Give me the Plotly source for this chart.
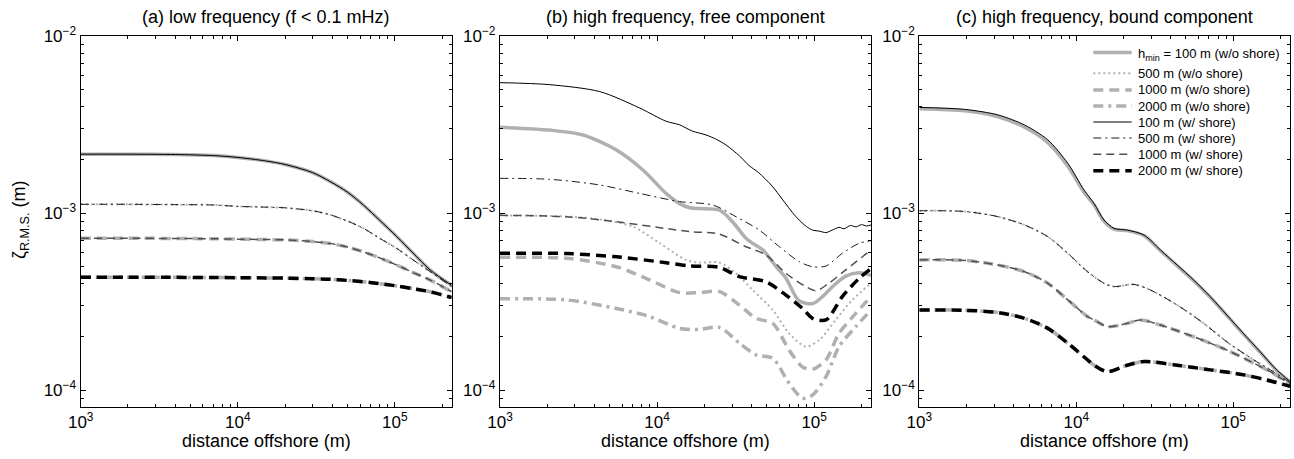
import plotly.graph_objects as go
import numpy as np

# ---------------- data (x: distance offshore in m, y: zeta RMS in m) ----------------
# Panel (a) low frequency
a_x = [1e3, 2e3, 4e3, 7e3, 1e4, 1.5e4, 2e4, 3e4, 3.9e4, 5e4, 6.3e4, 8e4, 1.03e5, 1.3e5, 1.68e5, 2.3e5]
a_100 = [2.15e-3, 2.15e-3, 2.14e-3, 2.11e-3, 2.06e-3, 1.97e-3, 1.88e-3, 1.69e-3, 1.50e-3, 1.31e-3, 1.11e-3, 9.1e-4,
         7.35e-4, 5.96e-4, 4.76e-4, 3.9e-4]
a_500 = [1.12e-3, 1.12e-3, 1.115e-3, 1.11e-3, 1.09e-3, 1.08e-3, 1.07e-3, 1.03e-3, 9.75e-4, 9.0e-4, 8.2e-4, 7.2e-4,
         6.3e-4, 5.45e-4, 4.66e-4, 3.84e-4]
a_1000 = [7.2e-4, 7.2e-4, 7.18e-4, 7.15e-4, 7.12e-4, 7.08e-4, 7.05e-4, 6.9e-4, 6.72e-4, 6.42e-4, 6.04e-4, 5.58e-4,
          5.08e-4, 4.62e-4, 4.18e-4, 3.59e-4]
a_2000 = [4.34e-4, 4.34e-4, 4.33e-4, 4.32e-4, 4.31e-4, 4.3e-4, 4.29e-4, 4.25e-4, 4.22e-4, 4.16e-4, 4.09e-4, 3.99e-4,
          3.87e-4, 3.74e-4, 3.59e-4, 3.33e-4]

# Panel (b) high frequency, free component
b_w100_x = [1e3, 2.07e3, 4.32e3, 7.74e3, 1.14e4, 1.39e4, 1.68e4, 2.05e4, 2.4e4, 2.75e4, 3.35e4, 3.86e4, 4.4e4, 5.4e4,
            6.25e4, 7.6e4, 8.9e4, 9.8e4, 1.08e5, 1.19e5, 1.3e5, 1.44e5, 1.55e5, 1.7e5, 1.85e5, 2.0e5, 2.15e5, 2.3e5]
b_w100 = [5.45e-3, 5.31e-3, 4.85e-3, 3.92e-3, 3.3e-3, 3.15e-3, 2.9e-3, 2.76e-3, 2.6e-3, 2.42e-3, 2.1e-3, 1.85e-3,
          1.7e-3, 1.42e-3, 1.2e-3, 9.6e-4, 8.4e-4, 8.0e-4, 7.9e-4, 7.75e-4, 8.0e-4, 8.3e-4, 8.15e-4, 8.5e-4, 8.35e-4,
          8.6e-4, 8.45e-4, 8.55e-4]
b_wo100_x = [1e3, 2.07e3, 3.38e3, 5.51e3, 8.13e3, 1.14e4, 1.39e4, 1.61e4, 1.86e4, 2.49e4, 3.03e4, 3.68e4, 4.1e4,
             4.7e4, 5.7e4, 6.6e4, 8.0e4, 9.8e4, 1.13e5, 1.31e5, 1.59e5, 1.93e5, 2.3e5]
b_wo100 = [3.05e-3, 2.94e-3, 2.76e-3, 2.27e-3, 1.75e-3, 1.29e-3, 1.13e-3, 1.07e-3, 1.06e-3, 1.04e-3, 8.9e-4, 7.2e-4,
           6.7e-4, 6.2e-4, 5.0e-4, 4.3e-4, 3.2e-4, 3.08e-4, 3.37e-4, 3.84e-4, 4.4e-4, 4.6e-4, 4.45e-4]
b_w500_x = [1e3, 2.07e3, 4.32e3, 7.74e3, 1.39e4, 2.26e4, 3.18e4, 4.48e4, 6.0e4, 8.04e4, 9.77e4, 1.19e5, 1.51e5, 1.93e5, 2.3e5]
b_w500 = [1.57e-3, 1.55e-3, 1.44e-3, 1.29e-3, 1.16e-3, 1.11e-3, 9.53e-4, 8.0e-4, 6.45e-4, 5.31e-4, 4.97e-4, 5.02e-4,
          5.92e-4, 6.74e-4, 6.98e-4]
b_w1000_x = [1e3, 2.65e3, 5.51e3, 1.61e4, 2.49e4, 3.68e4, 4.93e4, 6.61e4, 8.85e4, 1.03e5, 1.24e5, 1.59e5, 2.3e5]
b_w1000 = [9.7e-4, 9.53e-4, 8.93e-4, 7.85e-4, 7.6e-4, 6.45e-4, 5.8e-4, 4.56e-4, 3.84e-4, 3.64e-4, 4.01e-4, 4.77e-4, 6.18e-4]
b_w2000_x = [1e3, 2.65e3, 5.51e3, 1.14e4, 1.61e4, 2.49e4, 3.34e4, 4.93e4, 6.61e4, 8.43e4, 9.77e4, 1.19e5, 1.51e5, 1.93e5, 2.3e5]
b_w2000 = [5.92e-4, 5.9e-4, 5.66e-4, 5.24e-4, 5.02e-4, 4.93e-4, 4.37e-4, 4.09e-4, 3.44e-4, 2.89e-4, 2.54e-4, 2.49e-4,
           3.37e-4, 4.27e-4, 4.86e-4]
b_wo500_x = [1e3, 2.65e3, 4.32e3, 7.03e3, 1.04e4, 1.53e4, 1.86e4, 2.49e4, 3.18e4, 4.06e4, 5.45e4, 6.93e4, 8.85e4,
             1.08e5, 1.37e5, 1.75e5, 2.3e5]
b_wo500 = [9.7e-4, 9.55e-4, 9.2e-4, 8.37e-4, 6.75e-4, 5.43e-4, 5.25e-4, 5.25e-4, 4.56e-4, 3.67e-4, 2.83e-4, 2.09e-4,
           1.76e-4, 1.92e-4, 2.49e-4, 3.23e-4, 4.01e-4]
b_wo1000_x = [1e3, 2.65e3, 5.51e3, 8.95e3, 1.39e4, 1.86e4, 2.49e4, 3.34e4, 4.27e4, 5.45e4, 6.93e4, 8.43e4, 9.77e4,
              1.19e5, 1.44e5, 1.84e5, 2.3e5]
b_wo1000 = [5.62e-4, 5.55e-4, 4.97e-4, 4.19e-4, 3.55e-4, 3.55e-4, 3.6e-4, 3.02e-4, 2.54e-4, 2.38e-4, 1.68e-4, 1.35e-4,
            1.31e-4, 1.48e-4, 2.09e-4, 2.71e-4, 3.37e-4]
b_wo2000_x = [1e3, 2.65e3, 5.51e3, 8.95e3, 1.39e4, 1.86e4, 2.49e4, 3.34e4, 4.27e4, 5.45e4, 6.93e4, 8.43e4, 9.77e4,
              1.19e5, 1.44e5, 1.84e5, 2.3e5]
b_wo2000 = [3.28e-4, 3.23e-4, 2.89e-4, 2.6e-4, 2.23e-4, 2.2e-4, 2.26e-4, 1.84e-4, 1.58e-4, 1.51e-4, 1.09e-4, 8.98e-5,
            9.37e-5, 1.19e-4, 1.76e-4, 2.28e-4, 2.83e-4]

# Panel (c) high frequency, bound component
c_100_x = [1e3, 1.95e3, 3.18e3, 4.69e3, 6.59e3, 8.83e3, 1.12e4, 1.3e4, 1.5e4, 1.74e4, 2.11e4, 2.7e4, 3.44e4, 4.4e4,
           5.6e4, 7.14e4, 9.12e4, 1.16e5, 1.48e5, 1.89e5, 2.3e5]
c_w100 = [3.95e-3, 3.85e-3, 3.58e-3, 3.14e-3, 2.59e-3, 1.91e-3, 1.35e-3, 1.13e-3, 9.14e-4, 8.19e-4, 8.01e-4, 7.51e-4,
          6.18e-4, 5.08e-4, 4.18e-4, 3.37e-4, 2.65e-4, 2.09e-4, 1.65e-4, 1.3e-4, 1.12e-4]
c_wo100 = [3.88e-3, 3.78e-3, 3.5e-3, 3.05e-3, 2.5e-3, 1.84e-3, 1.31e-3, 1.11e-3, 9.0e-4, 8.1e-4, 7.95e-4, 7.45e-4,
           6.12e-4, 5.03e-4, 4.14e-4, 3.34e-4, 2.63e-4, 2.07e-4, 1.64e-4, 1.29e-4, 1.11e-4]
c_500_x = [1e3, 1.95e3, 3.18e3, 4.69e3, 6.59e3, 8.83e3, 1.18e4, 1.51e4, 1.74e4, 2.33e4, 2.97e4, 4.4e4, 6.49e4, 9.12e4,
           1.35e5, 1.8e5, 2.3e5]
c_500 = [1.03e-3, 1.02e-3, 9.53e-4, 8.55e-4, 7.35e-4, 5.92e-4, 4.66e-4, 4.0e-4, 3.84e-4, 3.95e-4, 3.67e-4, 3.02e-4,
         2.38e-4, 1.87e-4, 1.48e-4, 1.27e-4, 1.1e-4]
c_1000_x = [1e3, 1.95e3, 3.18e3, 4.69e3, 6.59e3, 8.83e3, 1.18e4, 1.3e4, 1.58e4, 2.11e4, 2.57e4, 3.44e4, 5.6e4, 9.12e4,
            1.35e5, 1.8e5, 2.3e5]
c_1000 = [5.43e-4, 5.4e-4, 5.08e-4, 4.66e-4, 4.01e-4, 3.23e-4, 2.6e-4, 2.49e-4, 2.28e-4, 2.38e-4, 2.49e-4, 2.33e-4,
          2.0e-4, 1.68e-4, 1.42e-4, 1.24e-4, 1.08e-4]
c_2000_x = [1e3, 1.95e3, 3.18e3, 4.69e3, 6.59e3, 8.83e3, 1.18e4, 1.3e4, 1.58e4, 2.11e4, 2.7e4, 4.4e4, 7.14e4, 1.16e5,
            1.63e5, 2.3e5]
c_2000 = [2.83e-4, 2.82e-4, 2.74e-4, 2.54e-4, 2.23e-4, 1.84e-4, 1.48e-4, 1.38e-4, 1.27e-4, 1.38e-4, 1.45e-4, 1.38e-4,
          1.3e-4, 1.22e-4, 1.14e-4, 1.05e-4]

panel_titles = ["(a) low frequency (f < 0.1 mHz)", "(b) high frequency, free component",
                "(c) high frequency, bound component"]
legend_names = ["h<sub>min</sub> = 100 m (w/o shore)", "500 m (w/o shore)", "1000 m (w/o shore)",
                "2000 m (w/o shore)", "100 m (w/ shore)", "500 m (w/ shore)", "1000 m (w/ shore)",
                "2000 m (w/ shore)"]
x_tick_vals = [1e3, 1e4, 1e5]
x_tick_text = ["10<sup>3</sup>", "10<sup>4</sup>", "10<sup>5</sup>"]
y_tick_vals = [1e-4, 1e-3, 1e-2]
y_tick_text = ["10<sup>\u22124</sup>", "10<sup>\u22123</sup>", "10<sup>\u22122</sup>"]

# ---------------- styles ----------------
GRAY = "#b0b0b0"
styles = [
    dict(color=GRAY, width=3.5, dash="solid"),
    dict(color=GRAY, width=2, dash="2px,3px"),
    dict(color=GRAY, width=3.5, dash="10px,6px"),
    dict(color=GRAY, width=3.5, dash="10px,5px,3px,5px"),
    dict(color="#000000", width=1, dash="solid"),
    dict(color="#1a1a1a", width=1, dash="8px,4px,2px,4px"),
    dict(color="#505050", width=1.5, dash="8px,5px"),
    dict(color="#000000", width=3.5, dash="10px,6px"),
]

# per series: (panel a, panel b, panel c) data
series_data = [
    [(a_x, a_100), (b_wo100_x, b_wo100), (c_100_x, c_wo100)],
    [(a_x, a_500), (b_wo500_x, b_wo500), (c_500_x, c_500)],
    [(a_x, a_1000), (b_wo1000_x, b_wo1000), (c_1000_x, c_1000)],
    [(a_x, a_2000), (b_wo2000_x, b_wo2000), (c_2000_x, c_2000)],
    [(a_x, a_100), (b_w100_x, b_w100), (c_100_x, c_w100)],
    [(a_x, a_500), (b_w500_x, b_w500), (c_500_x, c_500)],
    [(a_x, a_1000), (b_w1000_x, b_w1000), (c_1000_x, c_1000)],
    [(a_x, a_2000), (b_w2000_x, b_w2000), (c_2000_x, c_2000)],
]

FONT = "Liberation Sans, Arial, Helvetica, sans-serif"
W, H = 1294, 459

fig = go.Figure()
axn = ["", "2", "3"]
for si, (name, st) in enumerate(zip(legend_names, styles)):
    for pi in range(3):
        xs, ys = series_data[si][pi]
        fig.add_trace(go.Scatter(
            x=xs, y=ys, mode="lines", name=name,
            line=dict(color=st["color"], width=st["width"], dash=st["dash"], shape="spline", smoothing=0.8),
            xaxis="x" + axn[pi], yaxis="y" + axn[pi],
            showlegend=False, hoverinfo="skip"))

# panel pixel geometry
x_left = [80.7, 500.0, 919.3]
x_right = [451.7, 871.0, 1290.0]
y_top, y_bot = 36.0, 406.7

minor_x = [m * 10 ** e for e in range(3, 6) for m in range(2, 10)]
minor_y = [m * 10 ** e for e in range(-5, -2) for m in range(2, 10)]

layout = dict(
    width=W, height=H, autosize=False,
    margin=dict(l=0, r=0, t=0, b=0),
    paper_bgcolor="white", plot_bgcolor="white",
    font=dict(family=FONT, size=17, color="black"),
    showlegend=False,
)
for pi in range(3):
    xa = dict(type="log", domain=[x_left[pi] / W, x_right[pi] / W],
              range=[3, np.log10(2.3e5)], anchor="y" + axn[pi],
              showline=True, linecolor="black", linewidth=1.3, mirror="allticks",
              ticks="inside", ticklen=5, tickcolor="black", tickwidth=1,
              tickvals=x_tick_vals, ticktext=x_tick_text,
              tickfont=dict(family=FONT, size=17),
              minor=dict(ticks="inside", ticklen=3, tickcolor="black", tickvals=minor_x),
              showgrid=False, zeroline=False, automargin=False)
    ya = dict(type="log", domain=[1 - y_bot / H, 1 - y_top / H],
              range=[np.log10(8.05e-5), -2], anchor="x" + axn[pi],
              showline=True, linecolor="black", linewidth=1.3, mirror="allticks",
              ticks="inside", ticklen=5, tickcolor="black", tickwidth=1,
              tickvals=y_tick_vals, ticktext=y_tick_text,
              tickfont=dict(family=FONT, size=17),
              minor=dict(ticks="inside", ticklen=3, tickcolor="black", tickvals=minor_y),
              showgrid=False, zeroline=False, automargin=False)
    layout["xaxis" + axn[pi]] = xa
    layout["yaxis" + axn[pi]] = ya
fig.update_layout(**layout)

ann = []
for pi in range(3):
    cx = (x_left[pi] + x_right[pi]) / 2 / W
    ann.append(dict(text=panel_titles[pi], x=cx, y=1 - 17 / H, xref="paper", yref="paper",
                    xanchor="center", yanchor="middle", showarrow=False,
                    font=dict(family=FONT, size=18, color="black")))
    ann.append(dict(text="distance offshore (m)", x=cx, y=1 - 441 / H, xref="paper", yref="paper",
                    xanchor="center", yanchor="middle", showarrow=False,
                    font=dict(family=FONT, size=18, color="black")))
ann.append(dict(text="\u03b6<sub>R.M.S.</sub> (m)", x=20 / W, y=1 - 220 / H, xref="paper", yref="paper",
                xanchor="center", yanchor="middle", showarrow=False, textangle=-90,
                font=dict(family=FONT, size=18, color="black")))

# legend (drawn inside panel c, MATLAB style: 16 px rows, first row taller for the subscript)
leg_rows_y = [52.5, 73.3, 90.0, 106.0, 122.0, 138.0, 154.3, 170.7]
leg_x0, leg_x1, leg_tx = 1093.3, 1131.7, 1135.5
shapes = []
for i, (name, st) in enumerate(zip(legend_names, styles)):
    yy = 1 - leg_rows_y[i] / H
    shapes.append(dict(type="line", xref="paper", yref="paper", x0=leg_x0 / W, x1=leg_x1 / W, y0=yy, y1=yy,
                       line=dict(color=st["color"], width=st["width"], dash=st["dash"])))
    ty = leg_rows_y[i] + (2.5 if i == 0 else 0)
    ann.append(dict(text=name, x=leg_tx / W, y=1 - ty / H, xref="paper", yref="paper",
                    xanchor="left", yanchor="middle", showarrow=False,
                    font=dict(family=FONT, size=13, color="black")))
fig.update_layout(annotations=ann, shapes=shapes)

fig.write_html("out.html")
